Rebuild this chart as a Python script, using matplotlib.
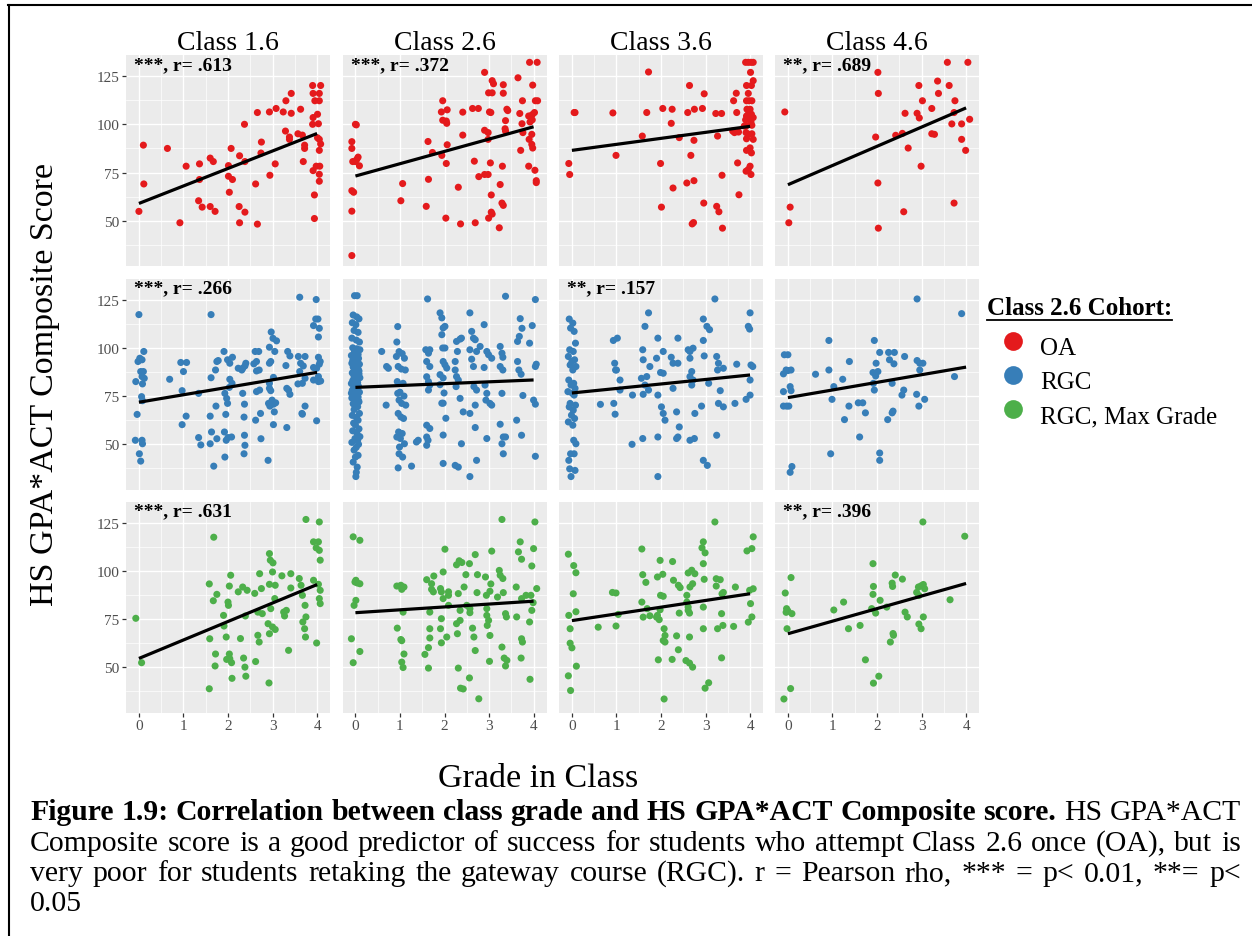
import numpy as np
import matplotlib
matplotlib.use('Agg')
import matplotlib.pyplot as plt
from matplotlib.lines import Line2D

plt.rcParams['font.family'] = ['Liberation Serif', 'DejaVu Serif']

# facet labels, cohorts, colours
classes = ['Class 1.6', 'Class 2.6', 'Class 3.6', 'Class 4.6']
cohorts = ['OA', 'RGC', 'RGC, Max Grade']
cohort_colors = ['#E41A1C', '#377EB8', '#4DAF4A']

# (grade in class, HS GPA*ACT composite)
oa_16 = [(0.0, 54.9), (0.1, 89.2), (0.11, 69.1), (0.64, 87.5), (0.92, 49), (1.06, 78.3), (1.36, 79.5),
         (1.36, 71.4), (1.34, 60.4), (1.42, 57.1), (1.6, 82.5), (1.67, 80.7), (1.6, 57.4), (1.71, 54.9),
         (2.07, 87.5), (2.01, 78.6), (2.01, 73.1), (2.1, 71.4), (2.03, 64.8), (2.26, 83.7), (2.37, 100),
         (2.38, 80.7), (2.25, 57.4), (2.38, 54.5), (2.26, 49), (2.66, 48.3), (2.62, 69.1), (2.66, 106.1),
         (2.75, 90.8), (2.74, 85.1), (2.93, 106.4), (2.94, 73.6), (3.06, 79.5), (3.08, 108.2), (3.24, 106.4),
         (3.3, 112.2), (3.42, 116), (3.42, 105.7), (3.29, 96.5), (3.38, 93.4), (3.38, 92.2), (3.63, 107.8),
         (3.57, 95.1), (3.67, 94.4), (3.72, 89.2), (3.72, 87.5), (3.69, 80.7), (3.9, 120.1), (4.08, 120.1),
         (3.91, 116), (4.05, 116), (3.95, 112.2), (4.05, 112.2), (3.91, 103.5), (4.01, 105.2), (4.03, 100.3),
         (3.9, 100), (4.05, 92.2), (4.08, 89.8), (4.01, 93), (4.05, 86.5), (3.98, 78.3), (4.06, 78.3),
         (3.91, 76), (4.05, 74.1), (4.05, 70.5), (3.94, 63.4), (3.94, 51.2)]
oa_26 = [(-0.08, 32), (-0.08, 55), (-0.08, 65.6), (-0.04, 64.8), (-0.08, 91), (-0.08, 87.5), (0, 100),
         (0.02, 99.7), (-0.06, 80.7), (0, 80.7), (0.06, 83), (0.09, 78.5), (0.03, 81.8), (1.06, 69.3),
         (1.02, 60.4), (1.64, 71.5), (1.63, 91.1), (1.59, 57.5), (1.73, 85.4), (1.96, 112.2), (1.93, 106.4),
         (2.06, 107.5), (1.96, 102.1), (2.04, 101.7), (2.05, 100.5), (2.06, 89.4), (1.94, 83.9), (2.04, 79.7),
         (2.03, 51.4), (2.31, 67.4), (2.36, 48.4), (2.41, 106.3), (2.41, 94.4), (2.63, 108.2), (2.76, 108.2),
         (2.67, 80.9), (2.69, 49), (2.77, 72.9), (2.9, 126.9), (2.9, 74), (2.98, 74), (2.9, 96.9), (2.98, 95.7),
         (2.98, 92.2), (3.07, 122.6), (3.1, 121), (2.99, 116.3), (3.07, 116.3), (3.01, 106.4), (3.04, 106.1),
         (3.03, 80), (3.05, 63.4), (3.05, 54.5), (3.07, 53.5), (2.99, 51.4), (3.23, 46.4), (3.25, 68.8),
         (3.3, 78.3), (3.29, 59.2), (3.32, 58), (3.32, 120.5), (3.32, 116.1), (3.4, 107.8), (3.42, 107.1),
         (3.37, 101.9), (3.36, 97.7), (3.37, 96.5), (3.65, 124.1), (3.75, 112.2), (3.69, 105.6), (3.74, 100.3),
         (3.76, 95.7), (3.71, 86.5), (3.89, 78.3), (3.91, 132.1), (4.08, 132.1), (3.98, 120.3), (4.04, 112.2),
         (4.09, 112.2), (3.89, 104.3), (3.97, 105), (4.02, 106.1), (3.92, 101.2), (3.97, 102.3), (3.96, 94.8),
         (3.9, 92.2), (3.96, 89.6), (3.98, 87.7), (4.03, 76.2), (4.06, 70.8), (4.06, 69.8)]
oa_36 = [(0.05, 106.1), (0.07, 106.1), (-0.07, 79.7), (-0.05, 74), (0.92, 105.9), (0.99, 83.9), (1.72, 127.1),
         (1.58, 93.9), (1.68, 106.1), (1.99, 79.7), (2.01, 57.1), (2.04, 108.2), (2.23, 100.5), (2.25, 107.8),
         (2.27, 67), (2.41, 93.1), (2.58, 69.6), (2.6, 106.1), (2.64, 120.1), (2.67, 83.9), (2.74, 91.7),
         (2.74, 70.8), (2.7, 48.4), (2.73, 49.1), (2.75, 107.8), (2.93, 108.2), (2.96, 59.2), (2.97, 115.8),
         (3.23, 105.6), (3.36, 105.6), (3.27, 93.9), (3.25, 57.5), (3.3, 54.7), (3.37, 73.6), (3.38, 46.2),
         (3.63, 112.2), (3.69, 116.1), (3.72, 80), (3.75, 63.5), (3.7, 106.1), (3.61, 96.5), (3.74, 96),
         (3.65, 95.7), (3.9, 132.1), (3.96, 132.1), (4.02, 132.1), (4.07, 132.1), (4.01, 126.9), (4.07, 122.6),
         (4.03, 120.1), (3.92, 120.1), (3.96, 116), (3.98, 112.2), (4.04, 112.2), (3.92, 112.2), (3.93, 107.8),
         (4.0, 107.8), (3.97, 105.7), (4.03, 105.2), (3.92, 104.3), (4.07, 103.5), (3.98, 102.6), (3.9, 102.3),
         (4.02, 101.2), (4.04, 99.5), (3.87, 99.1), (3.91, 99.1), (3.91, 95.7), (3.98, 94.8), (3.92, 92.5),
         (4.07, 92.2), (4.04, 95.1), (4.0, 87.8), (3.92, 86.5), (4.03, 85.2), (4.0, 78.3), (3.96, 76.6),
         (3.91, 75.7), (4.02, 74)]
oa_46 = [(-0.07, 106.4), (0.05, 57.1), (0.02, 49), (2.02, 126.9), (2.03, 116), (1.97, 93.4), (2.02, 69.6),
         (2.03, 46.2), (2.42, 94.3), (2.57, 95.3), (2.6, 54.7), (2.63, 105.7), (2.7, 87.7), (2.9, 105.7),
         (2.95, 103.3), (2.94, 120.1), (3.02, 112.2), (2.99, 78.3), (3.23, 108.2), (3.23, 95.1), (3.29, 94.8),
         (3.36, 122.4), (3.38, 116), (3.58, 132.1), (3.62, 120.1), (3.75, 112.2), (3.73, 59.2), (3.68, 100.2),
         (3.9, 100.2), (3.9, 92.2), (3.99, 86.5), (4.08, 102.6), (4.04, 132.1), (3.73, 106.1)]

rgc_16 = [(-0.07, 82.5), (0, 117.2), (-0.04, 65.5), (-0.08, 52.1), (0.01, 45.1), (0.04, 41.3), (0.07, 52.1),
          (0.08, 50.3), (-0.02, 92.9), (0.02, 94.6), (0.07, 93.8), (0.11, 98.1), (0.04, 87.7), (0.1, 87.7),
          (0.07, 85.1), (0.12, 84.2), (0.08, 81.3), (0.06, 74.7), (0.08, 72.6), (0.69, 83.7), (0.94, 92.4),
          (1.07, 92.4), (1.0, 87.7), (0.97, 77.8), (0.97, 60.2), (1.06, 64.6), (1.34, 76.4), (1.34, 53.5),
          (1.39, 49.7), (1.62, 117.2), (1.62, 84.5), (1.6, 64.6), (1.63, 56.4), (1.6, 50.3), (1.68, 38.7),
          (1.73, 69.8), (1.75, 52.9), (1.72, 88.5), (1.75, 92.9), (1.78, 93.4), (1.91, 98.1), (1.99, 93.8),
          (2.04, 92.0), (2.1, 95.1), (1.93, 76.4), (1.97, 73.8), (1.99, 71.2), (1.95, 65.5), (1.92, 56.4),
          (1.96, 52.1), (2.0, 53.5), (1.93, 43.4), (2.08, 53.8), (2.04, 83.7), (2.09, 81.6), (2.03, 79.5),
          (2.23, 89.4), (2.31, 88.5), (2.33, 89.4), (2.38, 90.6), (2.4, 92), (2.33, 76.4), (2.37, 70.8),
          (2.36, 64.1), (2.37, 54.7), (2.38, 49.5), (2.36, 45.1), (2.61, 98.1), (2.69, 98.1), (2.64, 92.9),
          (2.58, 91.7), (2.7, 88.5), (2.64, 88.0), (2.64, 77.3), (2.71, 78.1), (2.62, 62.5), (2.73, 66),
          (2.74, 52.9), (2.9, 41.7), (2.93, 100.3), (2.97, 108.2), (3.01, 104.9), (3.09, 103.6), (2.93, 92),
          (2.96, 92.9), (3.05, 98.1), (2.93, 81.6), (2.93, 79), (3.02, 84.7), (2.96, 77.8), (2.91, 71.2),
          (2.94, 69.8), (2.99, 72.9), (3.02, 70.8), (3.07, 71.5), (3.04, 66.8), (3.02, 60.2), (3.3, 90.8),
          (3.34, 98.1), (3.39, 95.8), (3.32, 79), (3.36, 78.1), (3.39, 75.9), (3.32, 58.7), (3.61, 126.2),
          (3.58, 95.5), (3.63, 92), (3.69, 90.6), (3.61, 87.7), (3.67, 81.6), (3.73, 84.2), (3.73, 95.5),
          (3.57, 81.3), (3.66, 66), (3.73, 69.8), (3.67, 65.6), (3.92, 111.5), (3.97, 114.9), (4.02, 114.9),
          (4.05, 110.1), (4.03, 105.6), (3.98, 125), (3.92, 89.8), (4.03, 95.1), (4.07, 92.9), (4.05, 91.5),
          (3.99, 89.4), (4.03, 85.1), (4.03, 82.5), (3.92, 83.3), (4.08, 82.8), (3.99, 62.2)]
rgc_26 = [(-0.02, 127), (0.04, 127), (-0.05, 117), (0.03, 116), (0.08, 115), (-0.07, 113), (0.01, 112),
          (-0.03, 109), (0.06, 108), (-0.08, 105), (0.02, 104), (0.09, 103), (-0.06, 100), (0.03, 99.5),
          (0.1, 99), (-0.02, 98), (0.05, 97), (-0.09, 96), (0.0, 95), (0.07, 94.5), (-0.04, 94), (0.04, 93),
          (-0.08, 92), (0.09, 91.5), (0.01, 91), (-0.05, 90), (0.06, 89), (-0.01, 88.5), (0.08, 88),
          (-0.07, 87), (0.03, 86), (-0.03, 85), (0.1, 84.5), (0.0, 84), (-0.06, 83), (0.05, 82), (-0.09, 81.5),
          (0.02, 81), (0.07, 80), (-0.04, 79), (0.04, 78.5), (-0.07, 78), (0.09, 77), (0.0, 76), (-0.02, 75),
          (0.06, 74.5), (-0.08, 74), (0.03, 73), (0.08, 72), (-0.05, 71), (0.01, 70), (0.05, 69.5),
          (-0.03, 68), (0.09, 66), (-0.07, 65), (0.02, 64), (0.06, 62.5), (-0.04, 61), (0.0, 60), (0.08, 58),
          (-0.06, 57), (0.03, 56), (0.1, 54), (-0.01, 53), (0.05, 52), (-0.08, 51), (0.07, 50), (0.02, 48.5),
          (-0.03, 47), (0.06, 44.3), (0.0, 43.4), (-0.05, 40.8), (0.04, 38.2), (0.02, 35.5), (0.01, 33.3),
          (0.06, 96.5), (-0.06, 93.5), (0.08, 86.5), (-0.01, 82.5), (0.04, 79.5), (-0.09, 76.5), (0.07, 72.5),
          (0.59, 98.1), (0.69, 70.3), (0.7, 90.3), (0.74, 89.4),
          (0.95, 111), (0.93, 103), (0.98, 98), (1.05, 97), (0.92, 95.5), (1.1, 94.6), (0.96, 90.3), (1.03, 89),
          (1.12, 88.5), (0.94, 82.5), (1.07, 81.6), (1.0, 77), (0.95, 76.4), (1.09, 75), (0.98, 72.9),
          (1.04, 71.2), (1.13, 70.3), (0.96, 66), (1.02, 64.2), (1.08, 63.4), (0.97, 56.4), (1.05, 55.6),
          (0.93, 53.8), (1.01, 53), (1.1, 50.3), (0.99, 48.6), (0.98, 45.1), (1.06, 43.4), (0.96, 37.8),
          (1.26, 38.7), (1.37, 51.2), (1.41, 52.1),
          (1.62, 125.3), (1.58, 99), (1.64, 97.2), (1.67, 99), (1.6, 92.9), (1.67, 90.3), (1.6, 85), (1.64, 82.5),
          (1.67, 80.7), (1.64, 78.1), (1.6, 59.9), (1.67, 58.2), (1.6, 53.8), (1.63, 52.1), (1.6, 49.5),
          (1.9, 118.1), (1.94, 115.5), (1.97, 110.3), (2.01, 111.1), (1.94, 106.8), (1.96, 99.9), (2.01, 99.9),
          (1.97, 92.9), (2.01, 91.2), (2.05, 89.5), (1.9, 86.1), (1.97, 84.4), (1.9, 80.9), (1.99, 76.6),
          (1.94, 71.3), (1.97, 71.3), (2.03, 63.5), (1.97, 54.8), (1.97, 40.1),
          (2.27, 103.3), (2.35, 104.5), (2.38, 105), (2.29, 98.1), (2.24, 92.9), (2.24, 88.5), (2.27, 85.1),
          (2.31, 83.3), (2.26, 79.9), (2.35, 73.8), (2.42, 66.8), (2.38, 50.3), (2.24, 39.1), (2.31, 38.2),
          (2.57, 118.1), (2.61, 108.5), (2.65, 105), (2.69, 104.2), (2.57, 99), (2.72, 98.1), (2.61, 94.1),
          (2.65, 90.3), (2.72, 78.1), (2.66, 79.9), (2.57, 66), (2.69, 70.3), (2.69, 58.7), (2.72, 41.7),
          (2.57, 33.3), (2.89, 112), (2.95, 98.1), (2.99, 96.4), (2.89, 89.8), (2.91, 80.7), (2.95, 76.4),
          (2.93, 72.9), (3.02, 71.2), (3.06, 70.3), (2.95, 53), (3.06, 94.6), (2.8, 100.7),
          (3.25, 100.7), (3.29, 97.2), (3.31, 95.1), (3.25, 90.3), (3.31, 88.5), (3.29, 76.4), (3.25, 60.4),
          (3.32, 53.8), (3.29, 50.3), (3.37, 53.8), (3.32, 45.1), (3.37, 126.7),
          (3.64, 103.3), (3.68, 105.9), (3.62, 62.5), (3.7, 115.1), (3.74, 110.1), (3.76, 75.3), (3.64, 92.9),
          (3.67, 88.5), (3.72, 86.3), (3.73, 54.7),
          (4.04, 125), (3.97, 111.5), (3.91, 102.4), (4.06, 91.5), (4.04, 90.3), (4.0, 72.9), (4.04, 70.8),
          (4.04, 43.8)]
rgc_36 = [(-0.06, 114.9), (0.02, 112.8), (-0.03, 110.2), (0.05, 108.5), (0.08, 102.4), (-0.05, 99), (0.03, 98.1),
          (-0.08, 95.5), (0.06, 93.8), (0.0, 92.9), (-0.04, 91.1), (0.09, 90.3), (0.02, 88.5), (-0.07, 83.3),
          (0.04, 81.6), (-0.02, 80.7), (0.07, 79), (-0.09, 77.3), (0.01, 76.4), (0.05, 75.5), (-0.04, 71.2),
          (0.08, 70.3), (-0.06, 69.4), (0.03, 67.7), (-0.01, 65.1), (0.06, 63.4), (-0.08, 61.6), (0.02, 59.9),
          (0.04, 52.1), (0.09, 50.3), (-0.03, 45.1), (0.05, 45.1), (-0.07, 41.7), (-0.05, 37.3), (0.07, 36.5),
          (-0.02, 33.3),
          (0.64, 70.7), (0.93, 103.8), (1.02, 105), (0.96, 92), (0.98, 88.5), (1.08, 83.3), (1.0, 88.5),
          (0.94, 71.2), (0.97, 65.6), (1.08, 78.1), (1.36, 75.5), (1.35, 50), (1.59, 99), (1.64, 111.1),
          (1.72, 118.1), (1.6, 93.8), (1.56, 84.2), (1.68, 85.1), (1.64, 80.7), (1.75, 90.3), (1.6, 75.9),
          (1.72, 78.1), (1.59, 53), (1.93, 105), (1.9, 94.6), (1.99, 87.2), (2.05, 86.8), (2.05, 98.1),
          (1.93, 75.5), (2.01, 69.4), (2.05, 66), (2.09, 62.5), (1.93, 53.8), (1.93, 33.3), (2.23, 95.1),
          (2.27, 92), (2.38, 92), (2.38, 105), (2.35, 66.8), (2.41, 59), (2.38, 53.8), (2.35, 53), (2.27, 79),
          (2.61, 99), (2.65, 98.1), (2.72, 99.8), (2.65, 94.6), (2.69, 87.7), (2.72, 83.3), (2.69, 80.7),
          (2.65, 85.1), (2.76, 66), (2.75, 53), (2.65, 52.1), (2.95, 114.9), (3.03, 111.1), (3.09, 109.4),
          (2.95, 103.8), (2.97, 95.8), (3.07, 81.6), (2.91, 69.8), (2.95, 41.7), (3.04, 39.1), (3.21, 125.3),
          (3.25, 95.5), (3.29, 92), (3.27, 88.5), (3.33, 77.8), (3.29, 71.2), (3.4, 69.4), (3.25, 54.7),
          (3.4, 89.4), (3.7, 91.5), (3.66, 71.2), (4.0, 118.1), (3.96, 111.1), (3.99, 109.7), (4.02, 91.1),
          (4.06, 90.3), (4.0, 83.3), (4.0, 75.5), (3.91, 73.3)]
rgc_46 = [(-0.08, 96.4), (0, 96.4), (-0.1, 86.5), (-0.04, 88.5), (0, 88.2), (0.07, 88.5), (-0.1, 77.3),
          (0.05, 79.9), (0.07, 77.8), (-0.1, 69.8), (-0.03, 69.8), (0.02, 69.8), (0.09, 38.5), (0.05, 35.5),
          (0.62, 86.3), (0.92, 103.8), (0.92, 88.5), (0.99, 73.3), (0.96, 45.1), (1.03, 79.9), (1.23, 83.7),
          (1.27, 62.8), (1.37, 69.8), (1.38, 92.9), (1.58, 71.5), (1.68, 71.5), (1.61, 53.8), (1.74, 66.3),
          (1.94, 103.8), (1.91, 87.2), (1.97, 85.4), (2.02, 87.7), (1.92, 81.6), (1.94, 78.1), (1.98, 92),
          (2.06, 97.6), (2.26, 97.6), (2.39, 97.6), (2.06, 45.5), (2.06, 41.7), (2.24, 62.8), (2.34, 66.3),
          (2.36, 67.2), (2.28, 93.8), (2.38, 91.7), (2.34, 81.6), (2.56, 75.5), (2.6, 78.1), (2.62, 95.5),
          (2.9, 125.3), (2.9, 93.4), (2.96, 92), (3.03, 92), (2.96, 88.5), (2.89, 75.9), (2.94, 69.8),
          (3.07, 73.3), (3.74, 85.1), (3.9, 117.7)]

max_16 = [(-0.07, 75.4), (0.06, 52.4), (1.58, 93.2), (1.59, 64.8), (1.58, 38.9), (1.67, 84.5), (1.68, 117.4),
          (1.72, 56.9), (1.71, 50.7), (1.75, 87.8), (1.9, 76.9), (1.91, 71.4), (1.96, 65.7), (1.97, 54.1),
          (2.04, 54.5), (2.08, 52.4), (2.03, 56.9), (2.0, 83.8), (2.01, 82.1), (2.03, 92.1), (2.06, 97.7),
          (2.09, 44.3), (2.23, 89.1), (2.28, 64.9), (2.33, 91.6), (2.35, 54.8), (2.38, 50.1), (2.39, 76.6),
          (2.43, 89.9), (2.4, 45.4), (2.6, 88.3), (2.62, 53), (2.67, 66.6), (2.67, 78.6), (2.7, 63.1),
          (2.71, 98.5), (2.75, 90.8), (2.77, 77.8), (2.9, 72.6), (2.92, 41.9), (2.93, 93), (2.93, 108.9),
          (2.95, 105.5), (3.0, 99.4), (2.93, 67.4), (2.96, 80.4), (3.0, 70.9), (3.01, 104.1), (3.05, 85.6),
          (3.06, 69.6), (3.06, 92.5), (3.21, 97.4), (3.25, 78.6), (3.27, 76.6), (3.31, 79.5), (3.36, 58.8),
          (3.41, 98.5), (3.41, 91.1), (3.6, 96), (3.64, 92.5), (3.67, 87.3), (3.68, 73.5), (3.72, 70),
          (3.73, 82.1), (3.74, 65.7), (3.75, 76.1), (3.75, 126.6), (3.92, 115), (3.98, 111.9), (4.03, 115),
          (3.99, 62.6), (3.92, 95.1), (4.03, 93), (4.07, 89.9), (4.05, 85.6), (4.07, 83), (4.05, 110.6),
          (4.07, 105.5), (4.05, 125.3)]
max_26 = [(-0.05, 117.6), (0.1, 115.8), (0.01, 95.1), (0.04, 93.7), (0.1, 93.3), (-0.01, 94.2), (-0.03, 82.1),
          (0.01, 84.7), (-0.09, 64.8), (-0.05, 52.4), (0.1, 58.2), (0.93, 92.1), (1.02, 92.5), (1.09, 91.6),
          (1.04, 90.4), (0.94, 70.3), (1.02, 64.4), (1.04, 63.8), (1.09, 56.9), (1.07, 49.9), (1.04, 52.7),
          (1.07, 78.6), (1.56, 56.7), (1.64, 60.2), (1.64, 49.6), (1.67, 65.2), (1.6, 95.4), (1.71, 93.3),
          (1.76, 97.3), (1.71, 90.4), (1.75, 89.1), (1.67, 78.6), (1.67, 70), (1.91, 90.8), (1.93, 89.1),
          (1.97, 99.4), (1.97, 85.6), (2.01, 111.2), (1.93, 75.2), (1.93, 62.7), (2.05, 65.7), (1.91, 70.0),
          (2.09, 89.1), (2.09, 87.3), (2.09, 82.1), (2.27, 103.1), (2.31, 88.2), (2.31, 49.6), (2.29, 67.4),
          (2.27, 72.6), (2.33, 105.2), (2.35, 74.3), (2.39, 104.3), (2.35, 79.5), (2.36, 39.2), (2.42, 38.8),
          (2.44, 91.6), (2.48, 98), (2.5, 82.1), (2.56, 103.7), (2.57, 78.3), (2.57, 80.4), (2.56, 44.5),
          (2.63, 70.3), (2.66, 65.7), (2.69, 58.7), (2.69, 108.4), (2.73, 88.7), (2.74, 98), (2.77, 33.7),
          (2.92, 96.8), (2.94, 87.3), (2.95, 80.4), (2.95, 76.9), (2.96, 71.7), (2.99, 74.3), (3.01, 53.1),
          (3.02, 89.4), (3.04, 93.2), (3.06, 110.2), (3.02, 66.5), (3.19, 86.4), (3.23, 100.2), (3.25, 97.7),
          (3.29, 60.5), (3.29, 126.6), (3.31, 96), (3.32, 88.7), (3.34, 54.8), (3.37, 50.7), (3.37, 77.8),
          (3.39, 76.1), (3.4, 53.6), (3.61, 91.6), (3.62, 76.1), (3.66, 109.8), (3.7, 115), (3.72, 54.8),
          (3.73, 64.8), (3.73, 85.6), (3.73, 106), (3.75, 63.1), (3.83, 87.3), (3.92, 43.8), (3.91, 73.5),
          (3.96, 102.5), (3.96, 79.5), (4.0, 111.5), (4.03, 125.3), (4.07, 90.8), (3.99, 83.5), (3.94, 87.3)]
max_36 = [(-0.08, 108.6), (0.04, 102.7), (0.09, 99), (0.03, 88.1), (0.09, 78.8), (-0.07, 76.9), (-0.04, 70),
          (-0.04, 62.5), (0, 60.1), (0.1, 50.6), (-0.08, 45.6), (-0.03, 38), (0.59, 70.8), (0.91, 88.8),
          (0.99, 88.5), (1.04, 77.4), (0.99, 71.4), (1.57, 111.3), (1.59, 98), (1.66, 94), (1.57, 83.8),
          (1.6, 76), (1.75, 76.7), (1.69, 80.4), (1.92, 96.8), (2.04, 98.2), (1.98, 105.4), (1.94, 53.9),
          (1.9, 76), (1.96, 74.7), (1.92, 76.9), (1.99, 87.3), (2.05, 86.8), (1.98, 79.8), (2.07, 70),
          (2.09, 66.5), (2.05, 63.9), (2.09, 63.1), (2.07, 33.6), (2.26, 104.8), (2.28, 95.1), (2.39, 92.5),
          (2.43, 91.3), (2.41, 78.1), (2.35, 66.3), (2.39, 59.1), (2.25, 54.1), (2.58, 87.3), (2.58, 83.8),
          (2.61, 81.2), (2.61, 79.5), (2.64, 78.1), (2.56, 53.5), (2.64, 52.2), (2.71, 50.1), (2.64, 65.7),
          (2.61, 98.9), (2.69, 100.3), (2.76, 98.5), (2.65, 91.6), (2.71, 93.3), (2.95, 115), (2.92, 111.9),
          (2.99, 109.3), (2.95, 103.7), (2.97, 95.6), (2.95, 81.2), (2.95, 70), (2.99, 39.2), (3.07, 42),
          (3.21, 125.3), (3.24, 95.9), (3.33, 95.4), (3.24, 92.1), (3.27, 70), (3.39, 71.7), (3.36, 54.9),
          (3.36, 77.8), (3.4, 88.8), (3.37, 88.1), (3.63, 71.2), (3.67, 91.6), (3.93, 110.3), (4.04, 111.5),
          (4.07, 117.6), (3.99, 89.9), (4.07, 90.7), (4.01, 83), (4.04, 76.1), (3.96, 73.4)]
max_46 = [(-0.09, 33.6), (0.06, 39), (-0.06, 88.5), (0.07, 96.5), (-0.03, 80.4), (0, 79.2), (-0.04, 78.5),
          (0.09, 77.8), (-0.02, 70), (1.03, 79.7), (1.25, 83.8), (1.36, 70), (1.62, 71.7), (1.74, 53.9),
          (1.91, 103.7), (1.91, 87.8), (1.92, 91.9), (1.88, 80.4), (1.97, 78.1), (1.92, 41.8), (2.04, 45.4),
          (2.07, 84.7), (2.22, 81.2), (2.3, 63.1), (2.35, 91.9), (2.34, 93.6), (2.36, 67.5), (2.37, 66.6),
          (2.41, 97.8), (2.57, 95.7), (2.63, 78.6), (2.68, 76.1), (2.89, 88.8), (2.93, 91.6), (3.04, 92.9),
          (2.94, 72.4), (2.99, 70), (3.04, 76.1), (3.07, 90.7), (2.99, 92.2), (2.94, 87.2), (3.03, 125.3),
          (3.64, 85), (3.97, 117.9)]

# fitted lines (intercept, slope)
fit_oa = [(59.0, 9.06), (73.2, 6.38), (86.5, 3.11), (68.7, 9.95)]
fit_rgc = [(71.8, 3.87), (79.5, 0.96), (76.6, 2.33), (74.2, 3.95)]
fit_max = [(54.6, 9.57), (78.3, 1.49), (74.2, 3.48), (67.4, 6.51)]
grade_range = [0, 4]

stats_oa = ['***, r= .613', '***, r= .372', '', '**, r= .689']
stats_rgc = ['***, r= .266', '', '**, r= .157', '']
stats_max = ['***, r= .631', '', '', '**, r= .396']

panels = [[oa_16, oa_26, oa_36, oa_46], [rgc_16, rgc_26, rgc_36, rgc_46], [max_16, max_26, max_36, max_46]]
fits = [fit_oa, fit_rgc, fit_max]
stats = [stats_oa, stats_rgc, stats_max]

caption = [
    [('Figure', 1), ('1.9:', 1), ('Correlation', 1), ('between', 1), ('class', 1), ('grade', 1), ('and', 1),
     ('HS', 1), ('GPA*ACT', 1), ('Composite', 1), ('score.', 1), ('HS', 0), ('GPA*ACT', 0)],
    [(w, 0) for w in 'Composite score is a good predictor of success for students who attempt Class 2.6 once (OA), but is'.split()],
    [(w, 0) for w in 'very poor for students retaking the gateway course (RGC). r = Pearson rho, *** = p< 0.01, **= p<'.split()],
    [('0.05', 0)],
]

W, H = 1252, 937
fig = plt.figure(figsize=(W / 100, H / 100), dpi=100)


def fx(px):
    return px / W


def fy(py):
    return 1 - py / H


col_left = [126, 342.5, 559, 775]
row_top = [56, 279.5, 502.5]
pw, ph = 204, 211

for r in range(3):
    for c in range(4):
        ax = fig.add_axes([fx(col_left[c]), fy(row_top[r] + ph), pw / W, ph / H])
        ax.set_facecolor('#EBEBEB')
        for s in ax.spines.values():
            s.set_visible(False)
        ax.set_xlim(-0.29, 4.29)
        ax.set_ylim(26.6, 135.9)
        ax.set_xticks([0, 1, 2, 3, 4])
        ax.set_xticks([0.5, 1.5, 2.5, 3.5], minor=True)
        ax.set_yticks([50, 75, 100, 125])
        ax.set_yticks([37.5, 62.5, 87.5, 112.5], minor=True)
        ax.grid(which='major', color='white', lw=1.0)
        ax.grid(which='minor', color='white', lw=0.5)
        ax.set_axisbelow(True)
        ax.tick_params(which='minor', length=0)
        ax.tick_params(which='major', length=3, width=0.9, color='#333333',
                       labelsize=11, labelcolor='#4D4D4D', pad=2)
        if c != 0:
            ax.tick_params(left=False, labelleft=False)
        if r != 2:
            ax.tick_params(bottom=False, labelbottom=False)

        pts = np.array(panels[r][c])
        ax.scatter(pts[:, 0], pts[:, 1], s=26, color=cohort_colors[r], edgecolors='none', zorder=2)
        b0, b1 = fits[r][c]
        gx = np.array(grade_range, dtype=float)
        ax.plot(gx, b0 + b1 * gx, color='black', lw=2.3, zorder=3, solid_capstyle='butt')
        if stats[r][c]:
            ax.text(0.04, 0.995, stats[r][c], transform=ax.transAxes, ha='left', va='top',
                    fontsize=14, fontweight='bold')

# strip labels
for c in range(4):
    fig.text(fx(col_left[c] + pw / 2), fy(50), classes[c], ha='center', va='baseline', fontsize=20)

# axis titles
fig.text(fx(45), fy(385), 'HS GPA*ACT Composite Score', rotation=90, ha='center', va='center', fontsize=24.5)
fig.text(fx(538), fy(787), 'Grade in Class', ha='center', va='baseline', fontsize=24.5)

# legend
renderer = fig.canvas.get_renderer()
lt = fig.text(fx(987), fy(315), 'Class 2.6 Cohort:', ha='left', va='baseline', fontsize=18, fontweight='bold')
bb = lt.get_window_extent(renderer)
fig.add_artist(Line2D([fx(bb.x0), fx(bb.x1)], [fy(320.5), fy(320.5)], color='black', lw=1.3))
leg_y = [342, 376, 410]
for i, name in enumerate(cohorts):
    fig.add_artist(Line2D([fx(1013)], [fy(leg_y[i])], marker='o', markersize=13.5, color=cohort_colors[i],
                          markeredgewidth=0, linestyle='none'))
    fig.text(fx(1040), fy(leg_y[i] + 13), name, ha='left', va='baseline', fontsize=18)

# caption, justified like the source document; size picked so line 2 nearly fills the width
x_start, x_end = 30, 1241
probe = fig.text(0, 0, ' '.join(w for w, b in caption[1]), fontsize=18)
probe_w = probe.get_window_extent(renderer).width
probe.remove()
cap_size = 18 * (x_end - x_start) / probe_w * 0.985
cap_base = [820, 851, 881, 911]
for li, words in enumerate(caption):
    texts = [fig.text(0, fy(cap_base[li]), w, ha='left', va='baseline', fontsize=cap_size,
                      fontweight='bold' if b else 'normal') for w, b in words]
    widths = [t.get_window_extent(renderer).width for t in texts]
    if li < len(caption) - 1 and len(words) > 1:
        gap = (x_end - x_start - sum(widths)) / (len(words) - 1)
    else:
        gap = cap_size * 100 / 72 * 0.25
    x = x_start
    for t, wd in zip(texts, widths):
        t.set_x(fx(x))
        x += wd + gap

# page frame
fig.add_artist(Line2D([fx(8), fx(W)], [fy(6), fy(6)], color='black', lw=1.5))
fig.add_artist(Line2D([fx(8.5), fx(8.5)], [fy(6), fy(H)], color='black', lw=1.5))

fig.savefig('out.png', dpi=100)
